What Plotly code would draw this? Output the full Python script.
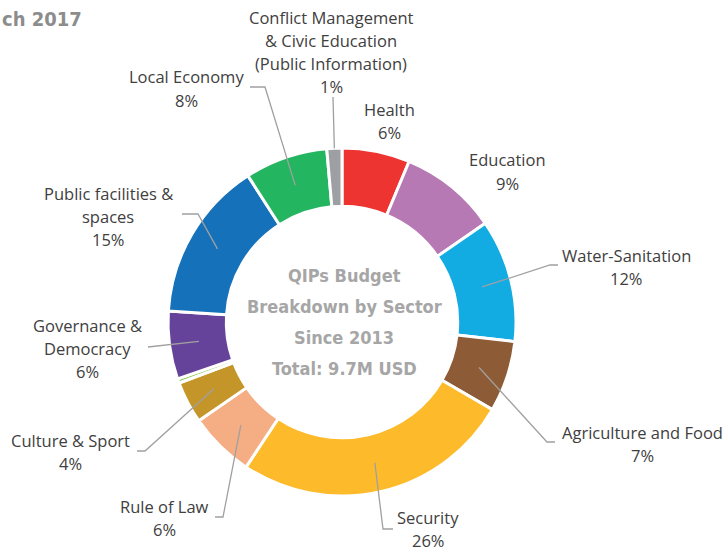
import math
import plotly.graph_objects as go

# ---------------- data ----------------
sectors = [
    "Health", "Education", "Water-Sanitation", "Agriculture and Food",
    "Security", "Rule of Law", "Culture & Sport", "Other",
    "Governance & Democracy", "Public facilities & spaces", "Local Economy",
    "Conflict Management & Civic Education (Public Information)",
]
budget_share = [6.3, 9.1, 11.4, 6.6, 25.9, 6.1, 3.9, 0.4, 6.3, 14.9, 7.7, 1.4]
pct_labels = ["6%", "9%", "12%", "7%", "26%", "6%", "4%", "", "6%", "15%", "8%", "1%"]
label_lines = [
    ["Health"], ["Education"], ["Water-Sanitation"], ["Agriculture and Food"],
    ["Security"], ["Rule of Law"], ["Culture & Sport"], [],
    ["Governance &", "Democracy"], ["Public facilities &", "spaces"],
    ["Local Economy"],
    ["Conflict Management", "& Civic Education", "(Public Information)"],
]
colors = [
    "#EE3431", "#B679B4", "#12ACE3", "#8D5B36", "#FDBB2B", "#F5AE83",
    "#C4962A", "#8DCB5E", "#66439A", "#1571B9", "#24B561", "#9D9FA2",
]
center_lines = ["QIPs Budget", "Breakdown by Sector", "Since 2013", "Total: 9.7M USD"]
title_text = "ch 2017"

# ---------------- layout hints (pixels) ----------------
W, H = 724, 553
CX, CY, R = 342, 322, 174
HOLE = 0.665
LINE_H = 23.3
label_xy = [(389, 109), (507, 160), (626, 255), (642, 432), (428, 517), (164, 506),
            (70, 440), None, (87, 325), (108, 193), (186, 77), (331, 17)]
leader_path = [None, None, [(550, 265), (558, 265)], [(547, 442), (555, 442)],
               [(383, 529), (393, 529)], [(223, 517), (215, 517)],
               [(145, 451), (137, 451)], None, [(148, 347)],
               [(198, 214), (182, 214)], [(265, 87), (250, 87)], [(333, 97)]]
leader_r = [0.83] * 11 + [1.0]


def px(x):
    return x / W


def py(y):
    return 1 - y / H


fig = go.Figure()
fig.add_trace(go.Pie(
    labels=sectors, values=budget_share, sort=False, direction="clockwise",
    rotation=0, hole=HOLE, textinfo="none",
    marker=dict(colors=colors, line=dict(color="white", width=3)),
    domain=dict(x=[px(CX - R), px(CX + R)], y=[py(CY + R), py(CY - R)]),
    showlegend=False, hoverinfo="label+percent",
))

annotations = []
shapes = []
total = sum(budget_share)
cum = 0.0
for i, v in enumerate(budget_share):
    mid = (cum + v / 2) / total * 2 * math.pi
    cum += v
    if label_xy[i] is not None:
        lx, ly = label_xy[i]
        lines = label_lines[i] + [pct_labels[i]]
        for k, t in enumerate(lines):
            annotations.append(dict(
                x=px(lx), y=py(ly + k * LINE_H), xref="paper", yref="paper",
                text=t, showarrow=False, xanchor="center", yanchor="middle",
                font=dict(family="Open Sans, Noto Sans, sans-serif", size=16.5, color="#404040"),
            ))
    if leader_path[i] is not None:
        r = leader_r[i] * R
        sx = CX + r * math.sin(mid)
        sy = CY - r * math.cos(mid)
        pts = [(sx, sy)] + leader_path[i]
        path = "M " + " L ".join(f"{px(a):.5f},{py(b):.5f}" for a, b in pts)
        shapes.append(dict(type="path", path=path, xref="paper", yref="paper",
                           line=dict(color="#A0A0A0", width=1.3), layer="above"))

center_y = [275, 306, 337, 368]
for t, y in zip(center_lines, center_y):
    annotations.append(dict(
        x=px(344), y=py(y), xref="paper", yref="paper", text=f"<b>{t}</b>",
        showarrow=False, xanchor="center", yanchor="middle",
        font=dict(family="DejaVu Sans Condensed, sans-serif",
                  size=18, color="#A6A6A6"),
    ))

annotations.append(dict(
    x=0, y=py(19), xref="paper", yref="paper", text=f"<b>{title_text}</b>",
    showarrow=False, xanchor="left", yanchor="middle",
    font=dict(family="DejaVu Sans Condensed, sans-serif",
              size=20, color="#8C8C8C"),
))

fig.update_layout(
    width=W, height=H, margin=dict(l=0, r=0, t=0, b=0),
    paper_bgcolor="white", plot_bgcolor="white",
    annotations=annotations, shapes=shapes,
)
fig.write_html(
    "out.html",
    config={"displayModeBar": False},
    post_script="document.body.style.margin='0';document.body.style.overflow='hidden';",
)
